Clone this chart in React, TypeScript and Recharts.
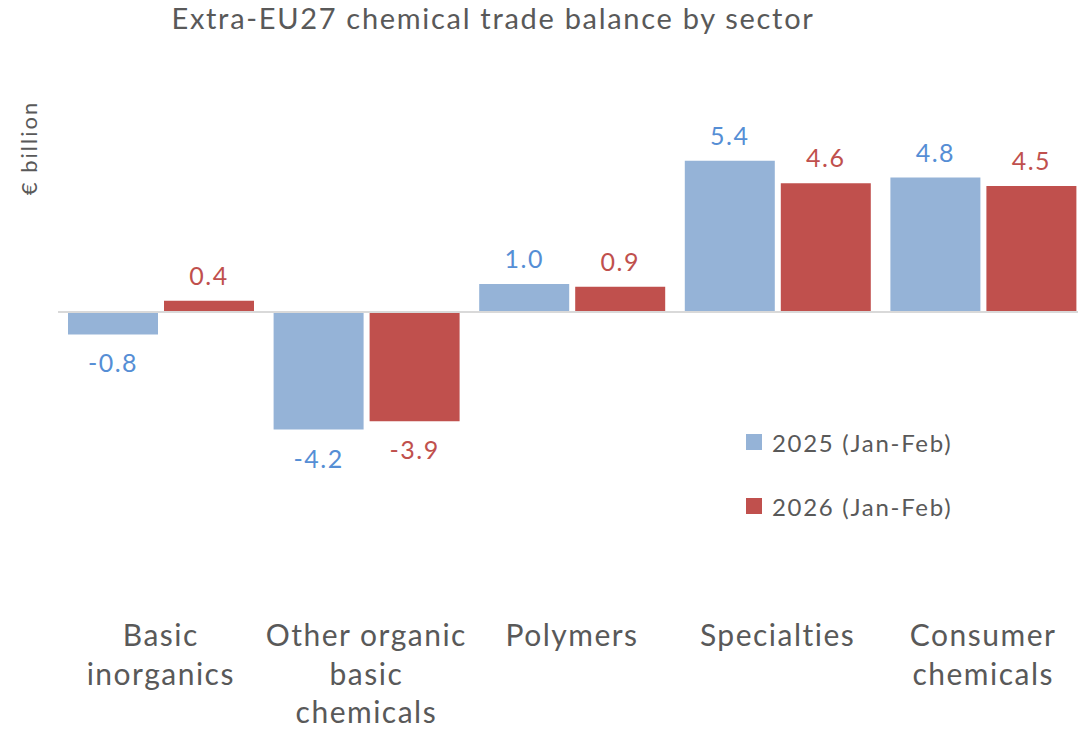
import { BarChart, Bar, XAxis, YAxis, ReferenceLine, LabelList } from "recharts";

const sectors = [
  ["Basic", "inorganics"],
  ["Other organic", "basic", "chemicals"],
  ["Polymers"],
  ["Specialties"],
  ["Consumer", "chemicals"],
];
const values2025 = [-0.8, -4.2, 1.0, 5.4, 4.8];
const values2026 = [0.4, -3.9, 0.9, 4.6, 4.5];
const seriesNames = ["2025 (Jan-Feb)", "2026 (Jan-Feb)"];

const BLUE = "#95b3d7";
const RED = "#c0504d";
const BLUE_TEXT = "#558ed5";
const GREY = "#595959";
const FONT = "Lato, 'Noto Sans', sans-serif";

const data = sectors.map((lines, i) => ({
  name: lines.join(" "),
  lines,
  y2025: values2025[i],
  y2026: values2026[i],
}));

function SectorTick(props: any) {
  const { x, y, payload } = props;
  const lines = data[payload.index]?.lines ?? [payload.value];
  return (
    <g>
      {lines.map((l: string, i: number) => (
        <text
          key={i}
          x={x}
          y={y + 46 + i * 38.5}
          textAnchor="middle"
          fill={GREY}
          fontSize={30}
          letterSpacing={1.5}
          fontFamily={FONT}
        >
          {l}
        </text>
      ))}
    </g>
  );
}

function valueLabel(color: string) {
  return (props: any) => {
    const { x, y, width, height, value } = props;
    const top = Math.min(y, y + height);
    const bottom = Math.max(y, y + height);
    const cy = value >= 0 ? top - 26 : bottom + 28;
    return (
      <text
        x={x + width / 2}
        y={cy}
        textAnchor="middle"
        dominantBaseline="central"
        fill={color}
        fontSize={25}
        letterSpacing={1.5}
        fontFamily={FONT}
      >
        {Number(value).toFixed(1)}
      </text>
    );
  };
}

function LegendBox() {
  const colors = [BLUE, RED];
  return (
    <div style={{ position: "absolute", left: 746, top: 428, fontFamily: FONT }}>
      {seriesNames.map((label, i) => (
        <div key={i} style={{ display: "flex", alignItems: "center", height: 28, marginBottom: i === 0 ? 36 : 0 }}>
          <span style={{ width: 16, height: 16, background: colors[i], display: "inline-block", marginRight: 10 }} />
          <span style={{ fontSize: 24, letterSpacing: 1.7, color: GREY }}>{label}</span>
        </div>
      ))}
    </div>
  );
}

export default function App() {
  return (
    <div style={{ position: "absolute", left: 0, top: 0, width: 1078, height: 733, overflow: "hidden", background: "#fff", fontFamily: FONT }}>
      <div
        style={{
          position: "absolute",
          left: 0,
          width: 986,
          top: 0,
          textAlign: "center",
          fontSize: 29,
          letterSpacing: 1.7,
          color: GREY,
          whiteSpace: "nowrap",
        }}
      >
        Extra-EU27 chemical trade balance by sector
      </div>
      <div
        style={{
          position: "absolute",
          left: 28,
          top: 148,
          transform: "translate(-50%, -50%) rotate(-90deg)",
          fontSize: 22,
          letterSpacing: 2,
          color: GREY,
          whiteSpace: "nowrap",
        }}
      >
        € billion
      </div>
      <BarChart
        width={1096}
        height={733}
        data={data}
        margin={{ top: 144, right: 10, bottom: 11, left: 58 }}
        barCategoryGap={10}
        barGap={6}
      >
        <XAxis dataKey="name" axisLine={false} tickLine={false} interval={0} height={130} tick={<SectorTick />} />
        <YAxis hide domain={[-10, 6]} />
        <ReferenceLine y={0} stroke="#d9d9d9" strokeWidth={2} />
        <Bar dataKey="y2025" name={seriesNames[0]} fill={BLUE} isAnimationActive={false}>
          <LabelList dataKey="y2025" content={valueLabel(BLUE_TEXT)} />
        </Bar>
        <Bar dataKey="y2026" name={seriesNames[1]} fill={RED} isAnimationActive={false}>
          <LabelList dataKey="y2026" content={valueLabel(RED)} />
        </Bar>
      </BarChart>
      <LegendBox />
    </div>
  );
}
